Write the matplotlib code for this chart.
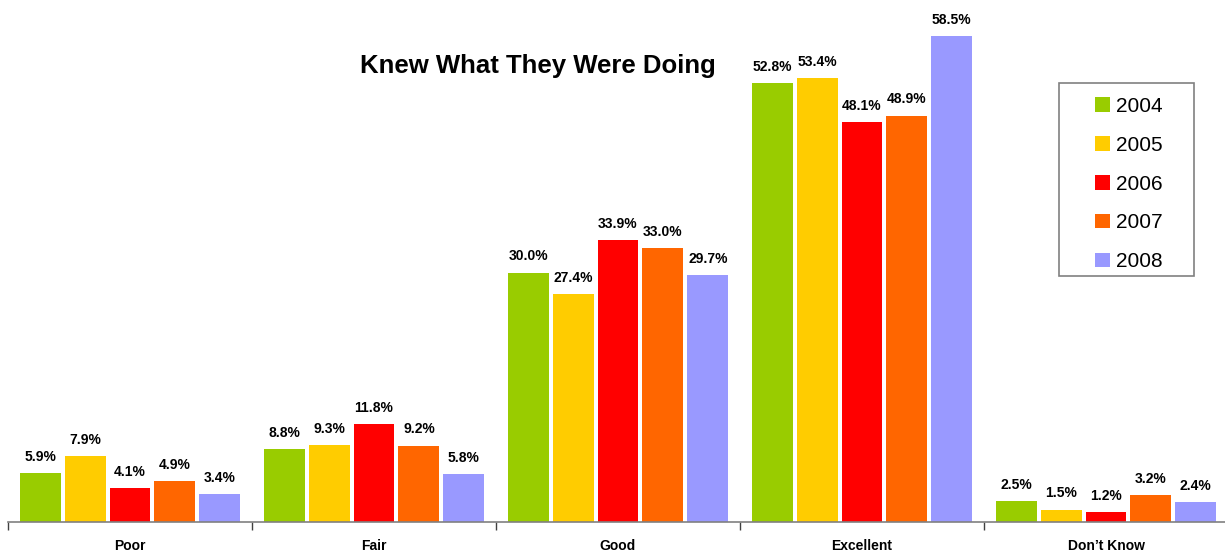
import numpy as np
import matplotlib
matplotlib.use("Agg")
import matplotlib.pyplot as plt
from matplotlib.patches import Rectangle

plt.rcParams['font.family'] = ['Liberation Sans', 'DejaVu Sans']

categories = ["Poor", "Fair", "Good", "Excellent", "Don\u2019t Know"]
years = ["2004", "2005", "2006", "2007", "2008"]
colors = ["#99CC00", "#FFCC00", "#FF0000", "#FF6600", "#9999FF"]
values = {
    "2004": [5.9, 8.8, 30.0, 52.8, 2.5],
    "2005": [7.9, 9.3, 27.4, 53.4, 1.5],
    "2006": [4.1, 11.8, 33.9, 48.1, 1.2],
    "2007": [4.9, 9.2, 33.0, 48.9, 3.2],
    "2008": [3.4, 5.8, 29.7, 58.5, 2.4],
}

W, H = 1225, 552
fig = plt.figure(figsize=(W / 100, H / 100), dpi=100)
ax = fig.add_axes([8 / W, 30 / H, 1220 / W, 522 / H])

x = np.arange(len(categories))
pitch = 0.184
width = 0.168
for i, yr in enumerate(years):
    pos = x + (i - 2) * pitch
    bars = ax.bar(pos, values[yr], width, color=colors[i], label=yr, zorder=2)
    for b, v in zip(bars, values[yr]):
        ax.text(b.get_x() + b.get_width() / 2, v + 1.1, f"{v:.1f}%",
                ha='center', va='bottom', fontsize=10, fontweight='bold')

ax.set_xlim(-0.5, 4.5)
ax.set_ylim(0, 62.8)
ax.set_yticks([])
for s in ['top', 'right', 'left']:
    ax.spines[s].set_visible(False)
ax.spines['bottom'].set_color('#808080')
ax.spines['bottom'].set_linewidth(1.2)
ax.set_xticks(x)
ax.set_xticklabels(categories, fontsize=10, fontweight='bold')
ax.tick_params(axis='x', which='major', length=0, pad=12)
ax.set_xticks(np.arange(-0.5, 5.0, 1.0), minor=True)
ax.tick_params(axis='x', which='minor', length=6, color='#404040', width=1)

ax.text(0.434, 0.874, "Knew What They Were Doing", transform=ax.transAxes,
        ha='center', va='center', fontsize=18.5, fontweight='bold')

# legend box drawn separately so its size matches the original
fig.patches.append(Rectangle((1059 / W, 1 - 276 / H), 135 / W, 193 / H,
                             transform=fig.transFigure, fill=False,
                             edgecolor='#808080', linewidth=1.2))
leg = ax.legend(loc='upper left', bbox_to_anchor=(1095 / W, 1 - 97 / H),
                bbox_transform=fig.transFigure, borderaxespad=0, borderpad=0,
                fontsize=15, frameon=False,
                handlelength=0.7, handleheight=0.7, handletextpad=0.3,
                labelspacing=0.95)

fig.savefig("out.png", dpi=100)
